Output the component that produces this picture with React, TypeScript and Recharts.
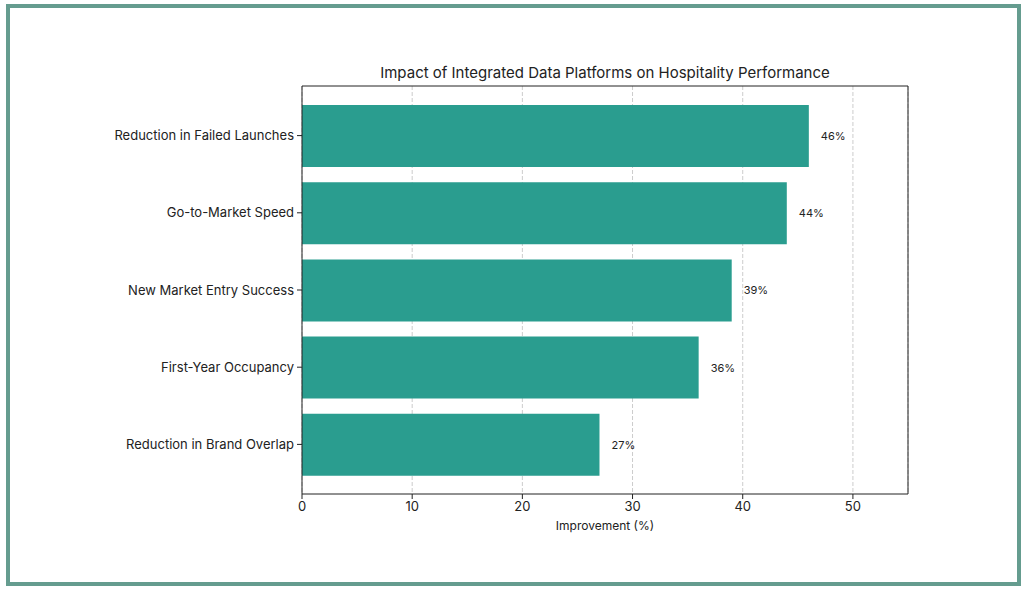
import React from "react";
import { BarChart, Bar, XAxis, YAxis, CartesianGrid, LabelList } from "recharts";

const categories = [
  "Reduction in Failed Launches",
  "Go-to-Market Speed",
  "New Market Entry Success",
  "First-Year Occupancy",
  "Reduction in Brand Overlap",
];
const improvement = [46, 44, 39, 36, 27];
const xTicks = [0, 10, 20, 30, 40, 50];

const data = categories.map((name, i) => ({ name, value: improvement[i] }));

const FONT = "Inter, 'Open Sans', sans-serif";
const BAR_COLOR = "#2a9d8f";
const INK = "#222";

export default function App() {
  return (
    <div
      style={{
        position: "fixed",
        left: 0,
        top: 0,
        width: 1026,
        height: 589,
        background: "#fff",
        fontFamily: FONT,
      }}
    >
      <div
        style={{
          position: "absolute",
          left: 6,
          top: 4,
          width: 1007,
          height: 574,
          border: "4px solid #659c8f",
        }}
      />
      <div
        style={{
          position: "absolute",
          left: 302,
          width: 606,
          top: 63,
          textAlign: "center",
          fontSize: 15,
          color: INK,
        }}
      >
        Impact of Integrated Data Platforms on Hospitality Performance
      </div>
      <div style={{ position: "absolute", left: 0, top: 0 }}>
        <BarChart
          width={1026}
          height={589}
          data={data}
          layout="vertical"
          margin={{ top: 85, right: 117, bottom: 55, left: 102 }}
        >
          <CartesianGrid
            horizontal={false}
            vertical={true}
            stroke="#cccccc"
            strokeDasharray="4 2"
          />
          <XAxis
            type="number"
            domain={[0, 55]}
            ticks={xTicks}
            allowDataOverflow
            axisLine={{ stroke: INK }}
            tickLine={{ stroke: INK }}
            tickSize={5}
            tickMargin={3}
            tick={{ fill: INK, fontSize: 13, fontFamily: FONT }}
            height={40}
            label={{
              value: "Improvement (%)",
              position: "insideBottom",
              offset: 4,
              fill: INK,
              fontSize: 12,
              fontFamily: FONT,
            }}
          />
          <XAxis
            xAxisId="top"
            orientation="top"
            type="number"
            domain={[0, 55]}
            tick={false}
            tickLine={false}
            axisLine={{ stroke: INK }}
            height={1}
          />
          <YAxis
            type="category"
            dataKey="name"
            width={200}
            padding={{ top: 11, bottom: 11 }}
            axisLine={{ stroke: INK }}
            tickLine={{ stroke: INK }}
            tickSize={5}
            tickMargin={3}
            tick={{ fill: INK, fontSize: 13, fontFamily: FONT }}
          />
          <YAxis
            yAxisId="right"
            orientation="right"
            type="number"
            domain={[0, 1]}
            tick={false}
            tickLine={false}
            axisLine={{ stroke: INK }}
            width={1}
          />
          <Bar dataKey="value" fill={BAR_COLOR} barSize={62} isAnimationActive={false}>
            <LabelList
              dataKey="value"
              position="right"
              offset={12}
              formatter={(v: number) => `${v}%`}
              style={{ fill: INK, fontSize: 11, fontFamily: FONT }}
            />
          </Bar>
        </BarChart>
      </div>
    </div>
  );
}
